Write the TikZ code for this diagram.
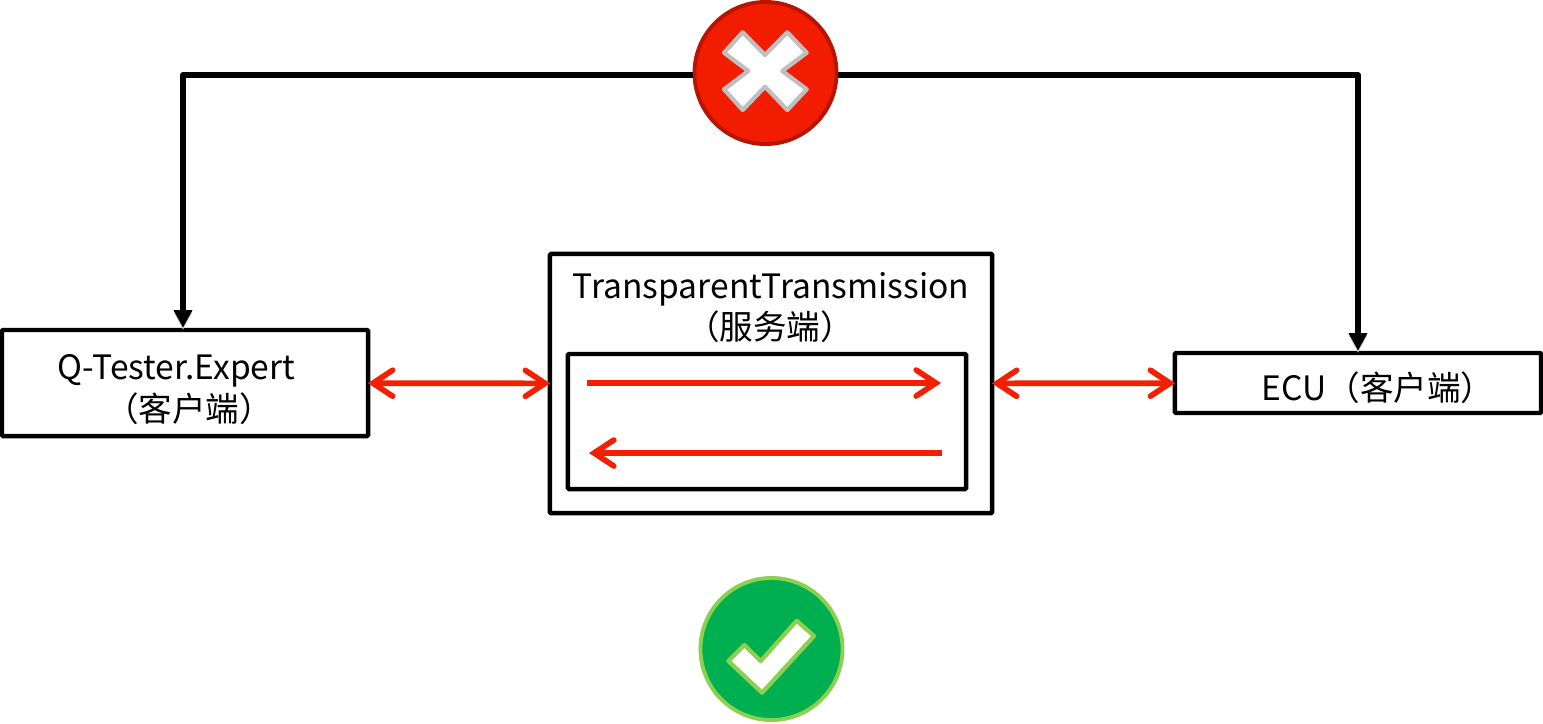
\documentclass[tikz,border=0pt]{standalone}
\usepackage{fontspec}
\setmainfont{Noto Sans CJK SC}
\usepackage{tikz}
\usetikzlibrary{arrows.meta}
\definecolor{crossred}{HTML}{F21D00}
\definecolor{crossedge}{HTML}{B81400}
\definecolor{okgreen}{HTML}{00B050}
\definecolor{okedge}{HTML}{8CD050}
\definecolor{linkred}{HTML}{F41E00}

\begin{document}
\begin{tikzpicture}[x=0.01cm,y=-0.01cm,
    box/.style={draw,line width=1.25pt,rounded corners=0.3pt,inner sep=0pt},
    txt/.style={inner sep=0pt,font=\fontsize{9.55}{11}\selectfont},
    shade line/.style={preaction={draw=black!18,transform canvas={yshift=-0.6pt}}},
    wire/.style={draw,shade line,line width=1.7pt,line join=round,-{Triangle[length=5pt,width=5pt]}},
    link/.style={draw=linkred,shade line,line width=1.6pt,shorten <=-0.7pt,shorten >=-0.7pt,{Straight Barb[length=5.6pt,width=7.4pt,line cap=round]}-{Straight Barb[length=5.6pt,width=7.4pt,line cap=round]}},
    flow/.style={draw=linkred,shade line,line width=1.6pt,-{Straight Barb[length=5.6pt,width=7.4pt,line cap=round]}},
    badge/.style={circle,inner sep=0pt,minimum size=1.42cm,line width=1.1pt}]
    \useasboundingbox (0,0) rectangle (1543,723);
    \draw (185,383) node[box,minimum width=3.66cm,minimum height=1.06cm](q){};
    \draw (771,383.5) node[box,minimum width=4.42cm,minimum height=2.59cm](srv){};
    \draw (767,421.5) node[box,minimum width=3.98cm,minimum height=1.35cm](inner){};
    \draw (1358,383) node[box,minimum width=3.66cm,minimum height=0.60cm](ecu){};
    \draw (176.5,371) node[txt](qname){Q-Tester.Expert};
    \draw (189,409) node[txt](qrole){（客户端）};
    \draw (771,289) node[txt](srvname){TransparentTransmission};
    \draw (770,327) node[txt](srvrole){（服务端）};
    \draw (1378,388) node[txt](ecuname){ECU（客户端）};
    \draw (765.5,73) node[badge,draw=crossedge,fill=crossred](bad){};
    \draw (771.5,649) node[badge,draw=okedge,fill=okgreen](good){};
    \draw[draw=black!25,fill=white,line width=1.2pt,line join=round] (724,52.7) -- (742.7,32.3) -- (765,55) -- (787.3,32.3) -- (806.7,52.7) -- (782.3,71) -- (806.7,89.3) -- (787.3,110) -- (765,86.7) -- (742.7,110) -- (724,89.3) -- (748.3,71) -- cycle;
    \draw[draw=okedge,fill=white,line width=1.2pt,line join=round] (728.3,661) -- (744.3,645) -- (760.7,661) -- (796.7,620.7) -- (814,636) -- (762,692.7) -- cycle;
    \coordinate (badl) at (693,75);
    \coordinate (badr) at (838,75);
    \draw[wire] (badl) -| ([xshift=-0.02cm]q.north);
    \draw[wire] (badr) -| (ecu);
    \draw[link] (q) -- (srv);
    \draw[link] (srv) -- (ecu);
    \coordinate (fwda) at (587,383);
    \coordinate (fwdb) at (941,383);
    \coordinate (backa) at (942,453);
    \coordinate (backb) at (589,453);
    \draw[flow] (fwda) -- (fwdb);
    \draw[flow] (backa) -- (backb);
\end{tikzpicture}
\end{document}
